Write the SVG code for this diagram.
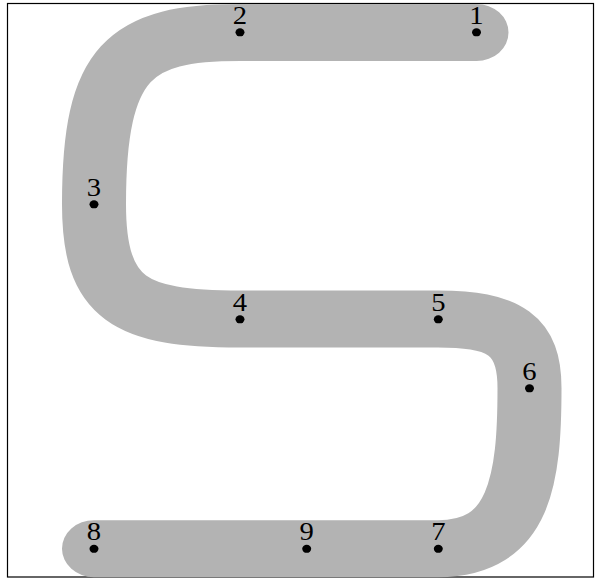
<svg xmlns="http://www.w3.org/2000/svg" width="595" height="578" viewBox="0 0 595 578">
<style>
.band{fill:none;stroke:#b3b3b3;stroke-width:57;stroke-linecap:round;stroke-linejoin:round}
.dot{fill:#000}
.lbl{font-family:"Liberation Serif","DejaVu Serif",serif;font-size:25.5px;fill:#000;text-anchor:middle}
</style>
<rect x="7.5" y="3.5" width="586" height="573.5" fill="#fff" stroke="#000" stroke-width="1.2"/>
<g transform="scale(1.123,1)">
<g id="connectors">
<path class="band" d="M 424.31 32.5 L 213.71 32.5 C 115.76 32.5 83.7 60 83.7 204 C 83.7 300 115.76 319 213.71 319 L 390.03 319 C 449.69 319 471.51 335 471.51 388 C 471.51 480 463.05 548.7 390.03 548.7 L 83.7 548.7"/>
</g>
<g id="n1"><circle class="dot" cx="424.31" cy="32.3" r="4"/><text class="lbl" x="424.31" y="23.7">1</text></g>
<g id="n2"><circle class="dot" cx="213.71" cy="32.3" r="4"/><text class="lbl" x="213.71" y="23.7">2</text></g>
<g id="n3"><circle class="dot" cx="83.7" cy="204.3" r="4"/><text class="lbl" x="83.7" y="195.7">3</text></g>
<g id="n4"><circle class="dot" cx="213.71" cy="319.3" r="4"/><text class="lbl" x="213.71" y="310.7">4</text></g>
<g id="n5"><circle class="dot" cx="390.3" cy="319.3" r="4"/><text class="lbl" x="390.3" y="310.7">5</text></g>
<g id="n6"><circle class="dot" cx="471.5" cy="388.3" r="4"/><text class="lbl" x="471.5" y="379.7">6</text></g>
<g id="n7"><circle class="dot" cx="390.3" cy="548.8" r="4"/><text class="lbl" x="390.3" y="540.2">7</text></g>
<g id="n9"><circle class="dot" cx="273.11" cy="548.8" r="4"/><text class="lbl" x="273.11" y="540.2">9</text></g>
<g id="n8"><circle class="dot" cx="83.7" cy="548.8" r="4"/><text class="lbl" x="83.7" y="540.2">8</text></g>
</g>
</svg>
